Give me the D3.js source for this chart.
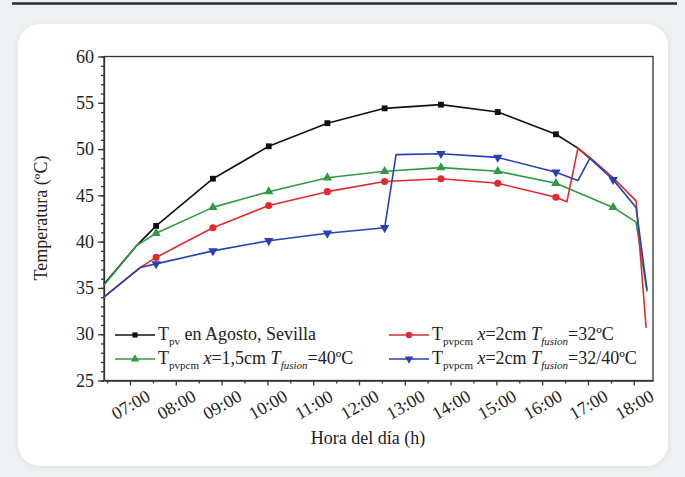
<!DOCTYPE html>
<html>
<head>
<meta charset="utf-8">
<script src="https://cdn.jsdelivr.net/npm/d3@7"></script>
<style>
body { margin: 0; background: #eef0f2; }
svg { display: block; }
</style>
</head>
<body>
<svg id="chart" width="685" height="477"></svg>
<script>
// axis ticks
var hourTicks = [7, 8, 9, 10, 11, 12, 13, 14, 15, 16, 17, 18];
var hourLabels = ["07:00", "08:00", "09:00", "10:00", "11:00", "12:00",
                  "13:00", "14:00", "15:00", "16:00", "17:00", "18:00"];
var tempTicks = [25, 30, 35, 40, 45, 50, 55, 60];
var markerHours = [7.57, 8.81, 10.03, 11.31, 12.56, 13.79, 15.03, 16.30, 17.55];

// T_pv en Agosto, Sevilla
var pvHours = [6.43, 7.15, 7.57, 8.81, 10.03, 11.31, 12.56, 13.79, 15.03, 16.30, 16.78, 17.04];
var pvTemps = [35.4, 39.6, 41.7, 46.8, 50.3, 52.8, 54.4, 54.8, 54.0, 51.6, 50.1, 49.0];
var pvMarks = markerHours.slice(0, 8);

// T_pvpcm x=1,5cm Tfusion=40
var greenHours = [6.43, 7.15, 7.57, 8.81, 10.03, 11.31, 12.56, 13.79, 15.03, 16.30, 17.55, 18.05, 18.29];
var greenTemps = [35.3, 39.6, 40.9, 43.7, 45.4, 46.9, 47.6, 48.0, 47.6, 46.3, 43.7, 42.1, 34.6];
var greenMarks = markerHours;

// T_pvpcm x=2cm Tfusion=32
var redHours = [6.43, 7.22, 7.57, 8.81, 10.03, 11.31, 12.56, 13.79, 15.03, 16.30, 16.54, 16.78, 17.04, 17.55, 18.05, 18.27];
var redTemps = [34.0, 37.2, 38.3, 41.5, 43.9, 45.4, 46.5, 46.8, 46.3, 44.8, 44.3, 50.1, 49.1, 46.9, 44.4, 30.7];
var redMarks = markerHours.slice(0, 8);

// T_pvpcm x=2cm Tfusion=32/40
var blueHours = [6.43, 7.22, 7.57, 8.81, 10.03, 11.31, 12.56, 12.81, 13.79, 15.03, 16.30, 16.78, 17.04, 17.55, 18.05, 18.29];
var blueTemps = [34.0, 37.2, 37.6, 39.0, 40.1, 40.9, 41.5, 49.4, 49.5, 49.1, 47.5, 46.6, 49.0, 46.7, 43.7, 34.8];
var blueMarks = markerHours;

var series = [
    {hours: pvHours, temps: pvTemps, marks: pvMarks, color: "#111111", symbol: d3.symbolSquare, size: 34, rot: 0},
    {hours: greenHours, temps: greenTemps, marks: greenMarks, color: "#2e9a44", symbol: d3.symbolTriangle, size: 38, rot: 0},
    {hours: redHours, temps: redTemps, marks: redMarks, color: "#e2292f", symbol: d3.symbolCircle, size: 40, rot: 0},
    {hours: blueHours, temps: blueTemps, marks: blueMarks, color: "#2641b4", symbol: d3.symbolTriangle, size: 38, rot: 180}
];

var serif = "'Liberation Serif', 'Times New Roman', serif";
var svg = d3.select("#chart");

// page decoration: top rule and white card
svg.append("line")
    .attr("x1", 12).attr("x2", 677).attr("y1", 3.5).attr("y2", 3.5)
    .attr("stroke", "#2a2a2a").attr("stroke-width", 2.5);

var defs = svg.append("defs");
var shadow = defs.append("filter").attr("id", "shadow")
    .attr("x", "-5%").attr("y", "-5%").attr("width", "110%").attr("height", "110%");
shadow.append("feDropShadow")
    .attr("dx", 0).attr("dy", 1).attr("stdDeviation", 3)
    .attr("flood-color", "#000").attr("flood-opacity", 0.08);

svg.append("rect")
    .attr("x", 18).attr("y", 24).attr("width", 650).attr("height", 442)
    .attr("rx", 22).attr("fill", "#ffffff").attr("filter", "url(#shadow)");

// scales
var x = d3.scaleLinear().domain([6.432, 18.42]).range([104, 653]);
var y = d3.scaleLinear().domain([25, 60]).range([380.5, 56.5]);

// axes
var xAxis = svg.append("g")
    .attr("transform", "translate(0,380.5)")
    .call(d3.axisBottom(x).tickValues(hourTicks).tickSize(5).tickSizeOuter(0)
        .tickFormat((d, i) => hourLabels[i]));
xAxis.selectAll("text")
    .attr("y", 0).attr("dy", "0.35em")
    .attr("transform", "translate(0,24) rotate(-30)")
    .style("text-anchor", "middle")
    .style("font-size", "18px");

svg.append("g")
    .attr("transform", "translate(0,380.5)")
    .call(d3.axisBottom(x).tickValues(hourTicks.map(h => h - 0.5)).tickSize(3).tickFormat(""))
    .select(".domain").remove();

var yAxis = svg.append("g")
    .attr("transform", "translate(104,0)")
    .call(d3.axisLeft(y).tickValues(tempTicks).tickSize(6).tickSizeOuter(0));
yAxis.selectAll("text").attr("x", -10).style("font-size", "18px");

svg.append("g")
    .attr("transform", "translate(104,0)")
    .call(d3.axisLeft(y).tickValues(d3.range(25, 61)).tickSize(3).tickFormat(""))
    .select(".domain").remove();

svg.selectAll(".domain, .tick line").attr("stroke", "#333").attr("stroke-width", 1.3);

// frame
svg.append("rect")
    .attr("x", 104).attr("y", 56.5).attr("width", 549).attr("height", 324)
    .attr("fill", "none").attr("stroke", "#333").attr("stroke-width", 1.3);

// lines and markers
var line = d3.line()
    .x(d => x(d[0]))
    .y(d => y(d[1]));

series.forEach(s => {
    var pts = s.hours.map((h, i) => [h, s.temps[i]]);
    svg.append("path")
        .datum(pts)
        .attr("fill", "none")
        .attr("stroke", s.color)
        .attr("stroke-width", 1.6)
        .attr("stroke-linejoin", "round")
        .attr("d", line);

    svg.selectAll(null)
        .data(pts.filter(p => s.marks.indexOf(p[0]) >= 0))
        .enter().append("path")
        .attr("d", d3.symbol().type(s.symbol).size(s.size))
        .attr("transform", d => "translate(" + x(d[0]) + "," + y(d[1]) + ") rotate(" + s.rot + ")")
        .attr("fill", s.color);
});

// legend
var legendItems = [
    {col: 115, row: 335, s: 0, parts: [["T"], ["pv", "sub"], [" en Agosto, Sevilla"]]},
    {col: 115, row: 359, s: 1, parts: [["T"], ["pvpcm", "sub"], [" "], ["x", "it"], ["=1,5cm "], ["T", "it"], ["fusion", "subit"], ["=40ºC"]]},
    {col: 389, row: 335, s: 2, parts: [["T"], ["pvpcm", "sub"], [" "], ["x", "it"], ["=2cm "], ["T", "it"], ["fusion", "subit"], ["=32ºC"]]},
    {col: 389, row: 359, s: 3, parts: [["T"], ["pvpcm", "sub"], [" "], ["x", "it"], ["=2cm "], ["T", "it"], ["fusion", "subit"], ["=32/40ºC"]]}
];

legendItems.forEach(item => {
    var s = series[item.s];
    var g = svg.append("g").attr("transform", "translate(" + item.col + "," + item.row + ")");
    g.append("line").attr("x1", 0).attr("x2", 40).attr("stroke", s.color).attr("stroke-width", 1.6);
    g.append("path")
        .attr("d", d3.symbol().type(s.symbol).size(s.size * 0.8))
        .attr("transform", "translate(20,0) rotate(" + s.rot + ")")
        .attr("fill", s.color);
    var t = g.append("text").attr("x", 43).attr("y", 5).style("font-size", "18px");
    var low = false;
    item.parts.forEach(p => {
        var sub = p[1] === "sub" || p[1] === "subit";
        var ts = t.append("tspan").text(p[0]);
        if (sub && !low) { ts.attr("dy", 5); low = true; }
        else if (!sub && low) { ts.attr("dy", -5); low = false; }
        if (sub) ts.style("font-size", "11px");
        if (p[1] === "it" || p[1] === "subit") ts.style("font-style", "italic");
    });
});

// axis titles
svg.append("text")
    .attr("x", 368).attr("y", 444)
    .style("text-anchor", "middle").style("font-size", "18px")
    .text("Hora del día (h)");

svg.append("text")
    .attr("transform", "translate(47,218) rotate(-90)")
    .style("text-anchor", "middle").style("font-size", "18px")
    .text("Temperatura (ºC)");

svg.selectAll("text").style("font-family", serif).style("fill", "#222");
</script>
</body>
</html>
